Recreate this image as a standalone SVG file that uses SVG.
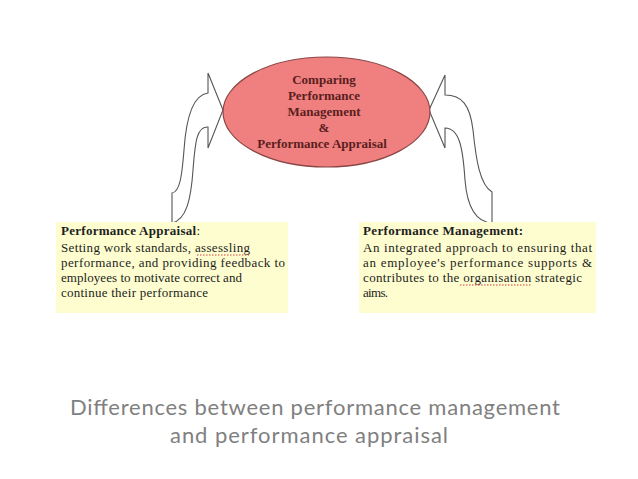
<svg xmlns="http://www.w3.org/2000/svg" width="638" height="479" viewBox="0 0 638 479">
<style>
.arrow{fill:#ffffff;stroke:#555555;stroke-width:1.1;stroke-linejoin:miter}
.etxt{font-family:"Liberation Serif",serif;font-weight:bold;font-size:13px;fill:#5a1e1e;text-anchor:middle}
.box{fill:#fdfdcf}
.btxt{font-family:"Liberation Serif",serif;font-size:13px;fill:#1e1e1e}
.bh{font-weight:bold}
.spell{fill:none;stroke:#d04040;stroke-width:1;stroke-dasharray:1.5 1.5}
.cap{font-family:"Lato","Open Sans",sans-serif;font-size:22px;fill:#808080;text-anchor:middle}
</style>
<rect width="638" height="479" fill="#ffffff"/>
<g id="connectors">
<path class="arrow" d="M172,223 L172,193 C180,192 182,175 184,150 C186,120 192,95 208,93 L208,73 L223,110 L208,148 L208,127 C196,126 195,145 193,170 C191,200 186,220 172,223 Z"/>
<path class="arrow" d="M492,223 L492,192 C480,185 476,160 473,130 C470,105 462,95 445,95 L445,75 L429,110 L445,148 L445,128 C460,128 463,150 465,180 C467,205 475,222 492,223 Z"/>
</g>
<g id="center">
<ellipse cx="326.5" cy="112" rx="103.5" ry="55" fill="#f08080" stroke="#8a4545" stroke-width="1.2"/>
<text class="etxt" x="324" y="84">Comparing</text>
<text class="etxt" x="324" y="100">Performance</text>
<text class="etxt" x="324" y="116">Management</text>
<text class="etxt" x="324" y="132">&amp;</text>
<text class="etxt" x="322" y="148">Performance Appraisal</text>
</g>
<g id="appraisal">
<rect class="box" x="56" y="222" width="232" height="91"/>
<text class="btxt bh" x="61" y="235" textLength="139">Performance Appraisal<tspan font-weight="normal">:</tspan></text>
<text class="btxt" x="61" y="252" textLength="189">Setting work standards, assessling</text>
<text class="btxt" x="61" y="267" textLength="224">performance, and providing feedback to</text>
<text class="btxt" x="61" y="282" textLength="181">employees to motivate correct and</text>
<text class="btxt" x="61" y="297" textLength="147">continue their performance</text>
<line class="spell" x1="197" y1="255" x2="249" y2="255"/>
</g>
<g id="management">
<rect class="box" x="359" y="222" width="237" height="91"/>
<text class="btxt bh" x="363" y="235" textLength="160">Performance Management:</text>
<text class="btxt" x="363" y="252" textLength="229">An integrated approach to ensuring that</text>
<text class="btxt" x="363" y="267" textLength="229">an employee's performance supports &amp;</text>
<text class="btxt" x="363" y="282" textLength="219">contributes to the organisation strategic</text>
<text class="btxt" x="363" y="297" textLength="25">aims.</text>
<line class="spell" x1="460" y1="285" x2="532" y2="285"/>
</g>
<g id="caption">
<text class="cap" x="315" y="415" textLength="490">Differences between performance management</text>
<text class="cap" x="309" y="443" textLength="278">and performance appraisal</text>
</g>
</svg>
